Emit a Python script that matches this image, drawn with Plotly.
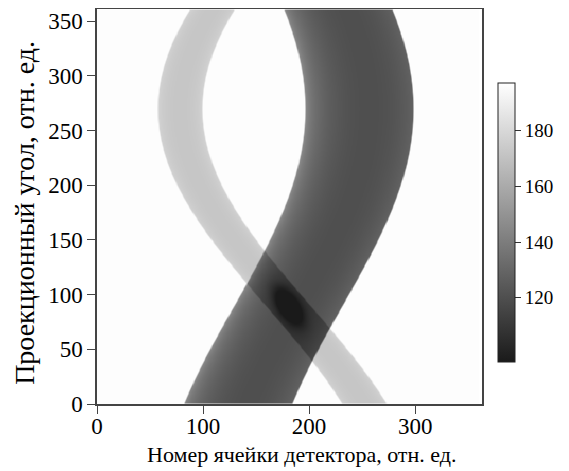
import numpy as np
import plotly.graph_objects as go

# Detector cells and projection angles (relative units)
detector_cells = np.arange(0, 361)
projection_angles = np.arange(0, 361)

# Two round objects
obj_names = ["light", "dark"]
obj_offset = [-102.0, 67.0]      # signed distance of object from rotation centre (cells)
obj_radius = [21.0, 51.0]        # half-width of band (cells)
obj_base_att = [17.0, 46.0]      # attenuation at band edge
obj_peak_att = [7.0, 30.0]       # extra attenuation at band maximum
obj_peak_shift = [0.0, 0.18]     # shift of the band maximum (fraction of radius)
overlap_light_att = 12.0         # light band attenuation inside the dark band
overlap_blob_att = 30.0          # extra darkening where bands cross at their centres
blob_width = [0.6, 0.4]          # blob half-width (fraction of each band radius)
rotation_centre = 180.0
extreme_angle = 270.0            # angle where bands reach their extreme
angle_scale = 0.5                # degrees per angle unit
background_value = 196.0

x_ticks = [0, 100, 200, 300]
y_ticks = [0, 50, 100, 150, 200, 250, 300, 350]
cbar_ticks = [120, 140, 160, 180]
x_title = "Номер ячейки детектора, отн. ед."
y_title = "Проекционный угол, отн. ед."

S, T = np.meshgrid(detector_cells, projection_angles)
weights, dists, atts = [], [], []
for off, r, a0, a1, sh in zip(obj_offset, obj_radius, obj_base_att, obj_peak_att, obj_peak_shift):
    centre = rotation_centre + off * np.cos(np.radians((T - extreme_angle) * angle_scale))
    d = S - centre
    w = np.clip((r - np.abs(d)) / 1.5 + 0.5, 0, 1)
    dp = (d - sh * r) / (r * (1 + sh))
    prof_peak = np.sqrt(np.clip(1 - dp ** 2, 0, 1))
    weights.append(w)
    dists.append(d / r)
    atts.append(w * (a0 + a1 * prof_peak))

w_l, w_d = weights
light_att = atts[0] * (1 - w_d) + w_l * w_d * overlap_light_att
blob = (overlap_blob_att * w_l * w_d
        * np.exp(-(dists[0] / blob_width[0]) ** 2)
        * np.exp(-(dists[1] / blob_width[1]) ** 2))
Z = background_value - atts[1] - light_att - blob
Z = np.round(Z, 1)

fig = go.Figure(go.Heatmap(
    x=detector_cells, y=projection_angles, z=Z,
    zmin=97, zmax=197, zsmooth="best",
    colorscale=[[0, "rgb(26,26,26)"], [1, "rgb(255,255,255)"]],
    colorbar=dict(
        x=1.042, xanchor="left", xref="paper", xpad=0,
        y=0.4595, yanchor="middle", ypad=0,
        len=0.706, lenmode="fraction",
        thickness=17, outlinecolor="#222", outlinewidth=1,
        tickvals=cbar_ticks, ticks="outside", ticklen=6, tickcolor="#333",
        tickfont=dict(family="Liberation Serif", size=19, color="black"),
    ),
))

axis_common = dict(
    showgrid=False, zeroline=False, mirror=True, showline=True,
    linecolor="#444", linewidth=1.5, ticks="outside", ticklen=8, tickcolor="#444",
    tickfont=dict(family="Liberation Serif", size=23, color="black"),
)
fig.update_xaxes(range=[0, 363], tickvals=x_ticks, ticklabelstandoff=-7, **axis_common)
fig.update_yaxes(range=[0, 361], tickvals=y_ticks, **axis_common)

fig.add_annotation(text=x_title, xref="paper", yref="paper", x=0.532, y=0,
                   xanchor="center", yanchor="middle", yshift=-50, showarrow=False,
                   font=dict(family="Liberation Serif", size=22, color="black"))
fig.add_annotation(text=y_title, xref="paper", yref="paper", x=-0.19, y=0.4835,
                   xanchor="center", yanchor="middle", textangle=-90, showarrow=False,
                   font=dict(family="Liberation Serif", size=28, color="black"))

# the page body adds an 8 px margin, so the figure is sized/offset to compensate
fig.update_layout(
    width=561, height=463,
    margin=dict(l=89, r=87, t=1, b=67, autoexpand=False),
    paper_bgcolor="white", plot_bgcolor="white",
)
fig.write_html("out.html")
